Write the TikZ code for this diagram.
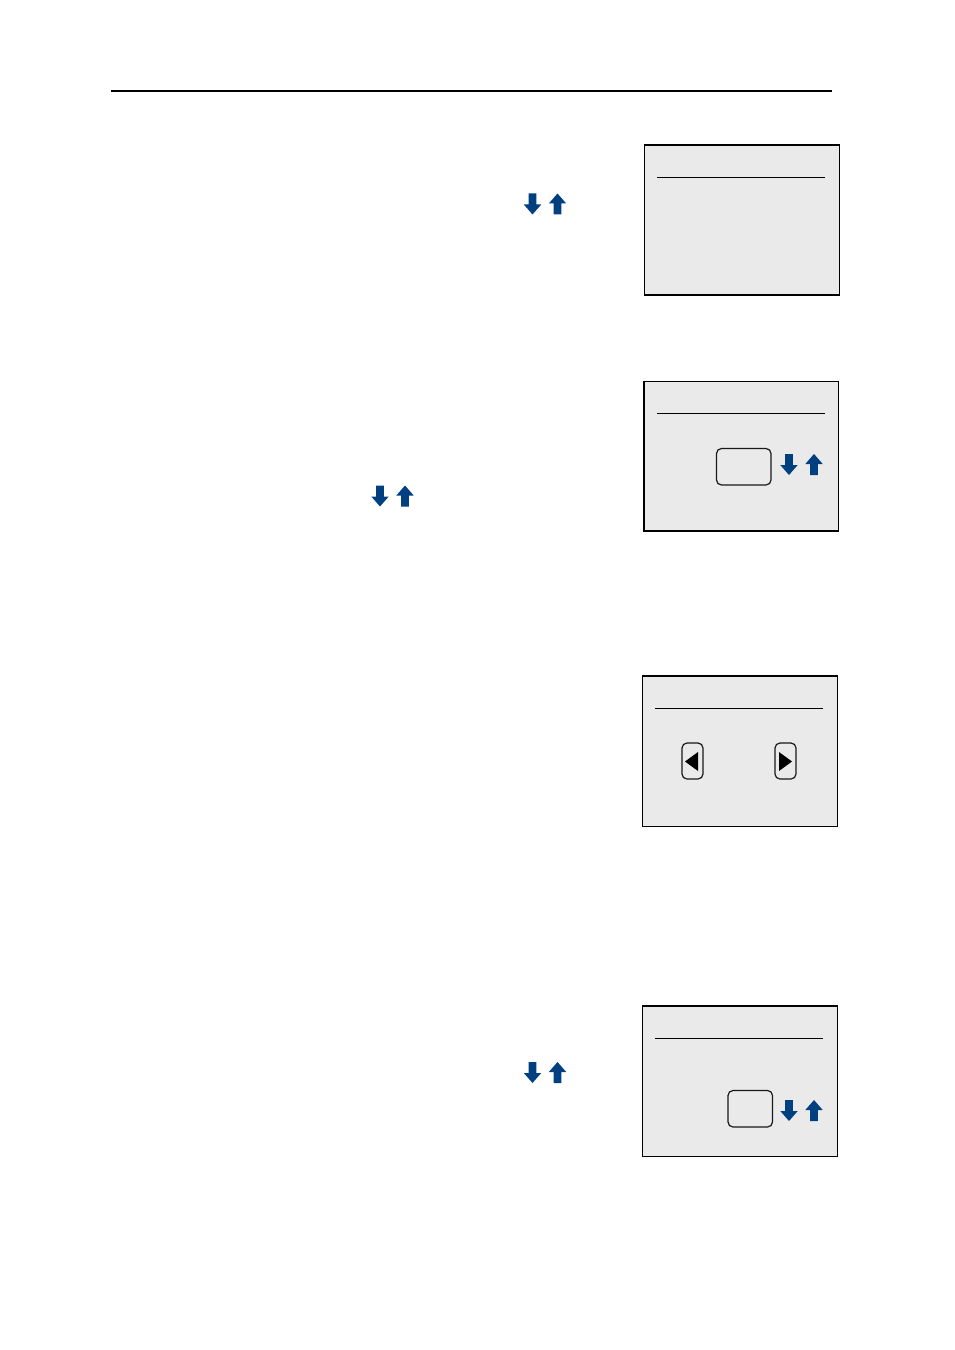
\documentclass[tikz,border=0pt]{standalone}
\definecolor{arrowblue}{HTML}{003F80}
\definecolor{panelgrey}{HTML}{EAEAEA}
\tikzset{
  x=1bp,y=-1bp,
  panel/.style={draw=black,fill=panelgrey,line width=1.1bp},
  rulethin/.style={draw=black,line width=0.8bp},
  rulethick/.style={draw=black,line width=1.8bp},
  softkey/.style={draw=black!90,line width=1.2bp,rounded corners=5bp},
  glyph/.style={fill=black},
  pics/downarrow/.style={code={\fill[arrowblue] (-3.8,-10.5)--(3.8,-10.5)--(3.8,0.5)--(8.7,0.5)--(0,10.5)--(-8.7,0.5)--(-3.8,0.5)--cycle;}},
  pics/uparrow/.style={code={\fill[arrowblue] (-3.8,10.5)--(3.8,10.5)--(3.8,-0.5)--(8.7,-0.5)--(0,-10.5)--(-8.7,-0.5)--(-3.8,-0.5)--cycle;}}
}
\begin{document}
\begin{tikzpicture}
\useasboundingbox[fill=white] (0,0) rectangle (954,1350);
\draw[black,line width=1.5bp] (111,91) -- (832,91);
% panel 1
\draw[panel] (644.5,145) rectangle (839.5,295);
\draw[rulethin] (657,177.5) -- (824.5,177.5);
\pic at (532.5,204) {downarrow};
\pic at (557.5,204) {uparrow};
% panel 2
\draw[panel] (644,381.5) rectangle (838.5,531);
\draw[rulethick] (657,413.5) -- (824.5,413.5);
\draw[softkey] (716.5,448.5) rectangle (771,485);
\pic at (789,464.5) {downarrow};
\pic at (814,464.5) {uparrow};
\pic at (380,496) {downarrow};
\pic at (405,496) {uparrow};
% panel 3
\draw[panel] (642.5,676) rectangle (837.5,826.5);
\draw[rulethin] (655,708.5) -- (822.5,708.5);
\draw[softkey] (682,743) rectangle (703,779);
\draw[softkey] (775,743) rectangle (796,779);
\fill[glyph] (685,761.5) -- (698,752) -- (698,771) -- cycle;
\fill[glyph] (792,761.5) -- (779,752) -- (779,771) -- cycle;
% panel 4
\draw[panel] (642.5,1006) rectangle (837.5,1156.5);
\draw[rulethin] (655,1038.5) -- (822.5,1038.5);
\draw[softkey] (728,1090.5) rectangle (772.5,1127);
\pic at (789,1110.5) {downarrow};
\pic at (814,1110.5) {uparrow};
\pic at (532.5,1072.5) {downarrow};
\pic at (557.5,1072.5) {uparrow};
\end{tikzpicture}
\end{document}
